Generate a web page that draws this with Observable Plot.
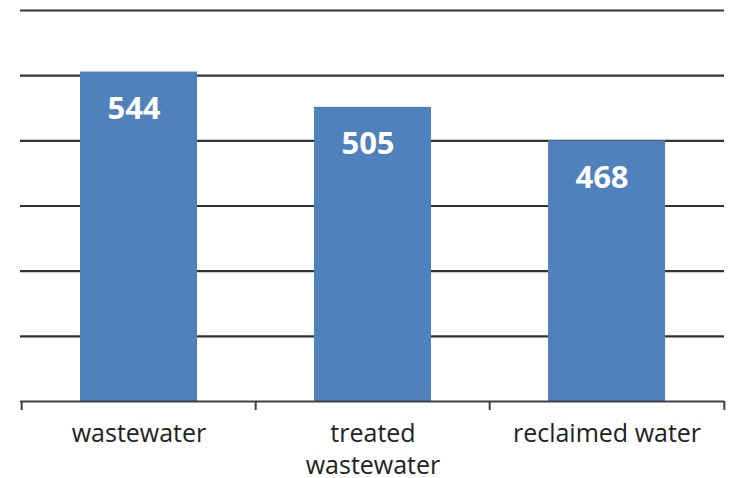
<!DOCTYPE html>
<html>
<head>
<meta charset="utf-8">
<script src="https://cdn.jsdelivr.net/npm/d3@7"></script>
<script src="https://cdn.jsdelivr.net/npm/@observablehq/plot@0.6"></script>
<style>
  html, body { margin: 0; padding: 0; background: #fff; }
  #chart svg { display: block; }
</style>
</head>
<body>
<div id="chart"></div>
<script>
// Categories and their values
const categories = ["wastewater", "treated\nwastewater", "reclaimed water"];
const values = [544, 505, 468];
// Gridline positions (value axis, labels hidden)
const gridTicks = [180, 252, 324, 396, 468, 540, 612];

const data = categories.map((c, i) => ({category: c, value: values[i]}));
const yMin = gridTicks[0];
const yMax = gridTicks[gridTicks.length - 1];

const chartWidth = 730, chartHeight = 478;
const mLeft = 20, mRight = 6, mTop = 10, mBottom = 77;
const step = (chartWidth - mLeft - mRight) / categories.length;

const font = "'Open Sans', 'Noto Sans', sans-serif";

const chart = Plot.plot({
  width: chartWidth, height: chartHeight,
  marginLeft: mLeft, marginRight: mRight, marginTop: mTop, marginBottom: mBottom,
  style: {background: "#fff", fontFamily: font},
  x: {domain: categories, paddingInner: 0.5, paddingOuter: 0.25, axis: null},
  y: {domain: [yMin, yMax], axis: null},
  marks: [
    // horizontal gridlines
    Plot.ruleY(gridTicks.slice(1), {stroke: "#333", strokeWidth: 2.2}),
    // bars
    Plot.barY(data, {x: "category", y1: yMin, y2: "value", fill: "#4F81BD"}),
    // category axis line
    Plot.ruleY([yMin], {stroke: "#404040", strokeWidth: 2}),
    // tick marks at category boundaries
    Plot.ruleX(categories, {x: d => d, dx: -step / 2, y1: yMin, y2: yMin - 10, stroke: "#404040", strokeWidth: 2}),
    Plot.ruleX(categories.slice(-1), {x: d => d, dx: step / 2, y1: yMin, y2: yMin - 10, stroke: "#404040", strokeWidth: 2}),
    // value labels inside bars
    Plot.text(data, {
      x: "category", y: "value", text: d => String(d.value),
      dx: -5, dy: 37, fill: "#fff", fontWeight: "bold", fontSize: 31, fontFamily: font
    }),
    // category labels
    Plot.text(data, {
      x: "category", y: yMin, text: "category",
      lineAnchor: "top", dy: 17, lineHeight: 1.3,
      fontSize: 25, fill: "#222", fontFamily: font
    })
  ]
});

document.getElementById("chart").appendChild(chart);
</script>
</body>
</html>
